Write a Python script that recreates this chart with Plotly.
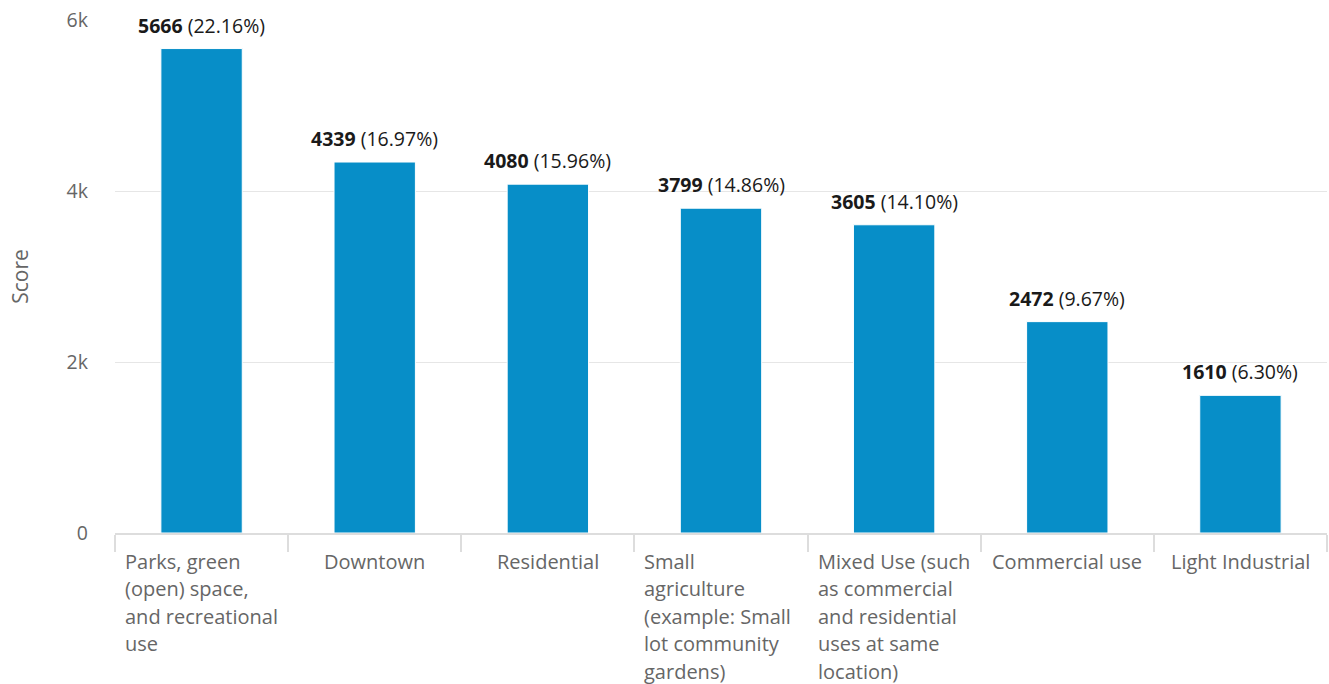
import plotly.graph_objects as go

# Category names (with line breaks for the wrapped axis labels)
categories = [
    "Parks, green<br>(open) space,<br>and recreational<br>use",
    "Downtown",
    "Residential",
    "Small<br>agriculture<br>(example: Small<br>lot community<br>gardens)",
    "Mixed Use (such<br>as commercial<br>and residential<br>uses at same<br>location)",
    "Commercial use",
    "Light Industrial",
]
scores = [5666, 4339, 4080, 3799, 3605, 2472, 1610]
shares = ["22.16%", "16.97%", "15.96%", "14.86%", "14.10%", "9.67%", "6.30%"]

BAR_COLOR = "#078ec8"
FONT = "Open Sans"
LABEL_SIZE = 20
LINE_STEP = 27.4

x_idx = list(range(len(categories)))

fig = go.Figure(
    go.Bar(
        x=x_idx,
        y=scores,
        width=0.47,
        marker=dict(color=BAR_COLOR, line=dict(color="white", width=1)),
        hoverinfo="skip",
    )
)

annotations = []
# value labels above the bars
for i, (v, p) in enumerate(zip(scores, shares)):
    annotations.append(dict(
        x=i, y=v, xref="x", yref="y",
        text=f"<b>{v}</b> ({p})",
        showarrow=False, yanchor="bottom", xanchor="center", yshift=8,
        font=dict(family=FONT, size=19.5, color="#1a1a1a"),
    ))
# category labels: single lines centred, wrapped ones left-aligned in the slot
for i, c in enumerate(categories):
    lines = c.split("<br>")
    for k, line in enumerate(lines):
        if len(lines) == 1:
            pos = dict(x=i, xanchor="center", xshift=0)
        else:
            pos = dict(x=i - 0.5, xanchor="left", xshift=8)
        annotations.append(dict(
            y=0, xref="x", yref="paper", text=line,
            showarrow=False, yanchor="middle", yshift=-28.5 - k * LINE_STEP,
            font=dict(family=FONT, size=LABEL_SIZE, color="#666666"),
            **pos,
        ))

fig.update_layout(
    width=1329, height=684,
    margin=dict(l=115, r=2, t=20, b=151),
    paper_bgcolor="white", plot_bgcolor="white",
    font=dict(family=FONT, color="#666666"),
    showlegend=False,
    annotations=annotations,
    xaxis=dict(
        type="linear", range=[-0.5, len(categories) - 0.5],
        tickvals=[i - 0.5 for i in range(len(categories) + 1)],
        ticktext=[""] * (len(categories) + 1),
        ticks="outside", ticklen=17, tickwidth=2, tickcolor="#dddddd",
        showline=True, linecolor="#dddddd", linewidth=2,
        showgrid=False, zeroline=False, fixedrange=True,
    ),
    yaxis=dict(
        range=[0, 6000], tickvals=[0, 2000, 4000, 6000],
        ticktext=["0", "2k", "4k", "6k"],
        tickfont=dict(family=FONT, size=19.5, color="#666666"),
        ticklabelstandoff=26,
        showgrid=True, gridcolor="#e6e6e6", gridwidth=1,
        zeroline=False, showline=False,
        title=dict(text="Score", font=dict(family=FONT, size=21, color="#666666"), standoff=32),
    ),
)

fig.write_html("out.html")
